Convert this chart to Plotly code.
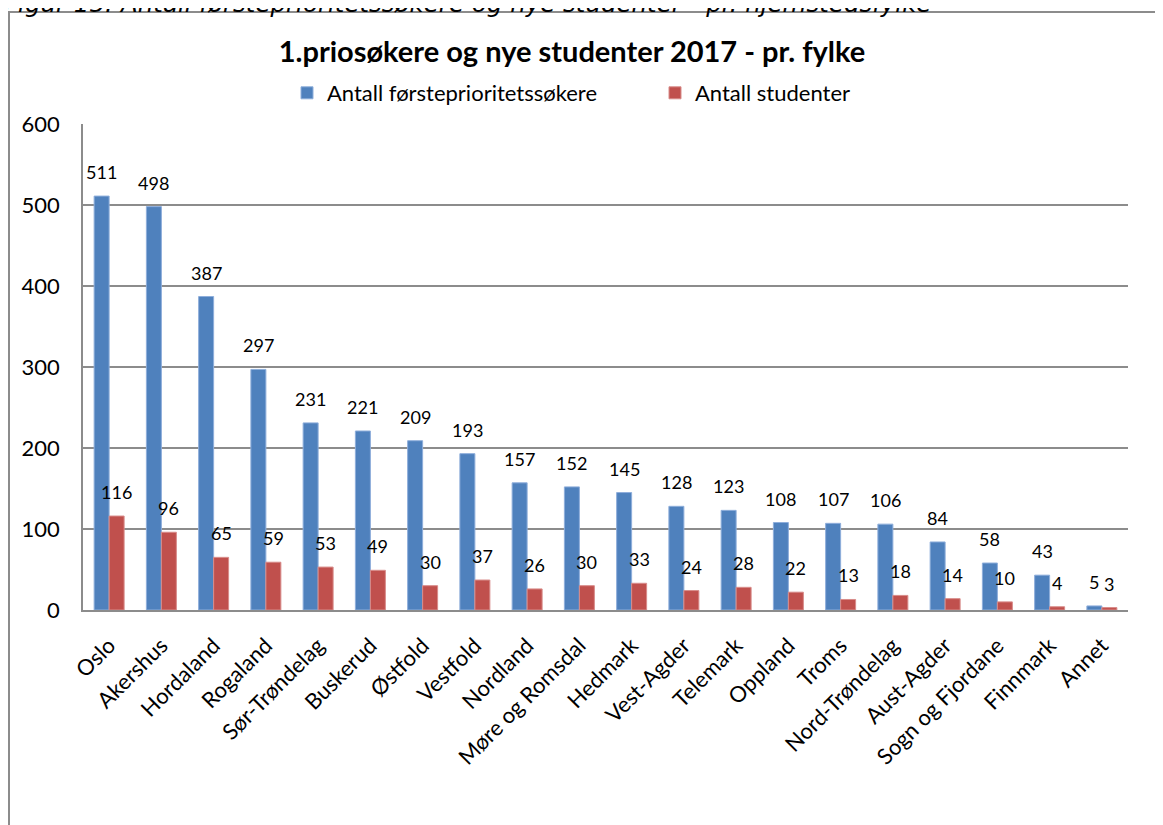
import plotly.graph_objects as go

categories = ["Oslo", "Akershus", "Hordaland", "Rogaland", "Sør-Trøndelag", "Buskerud",
              "Østfold", "Vestfold", "Nordland", "Møre og Romsdal", "Hedmark", "Vest-Agder",
              "Telemark", "Oppland", "Troms", "Nord-Trøndelag", "Aust-Agder",
              "Sogn og Fjordane", "Finnmark", "Annet"]
applicants = [511, 498, 387, 297, 231, 221, 209, 193, 157, 152, 145, 128, 123, 108, 107,
              106, 84, 58, 43, 5]
students = [116, 96, 65, 59, 53, 49, 30, 37, 26, 30, 33, 24, 28, 22, 13, 18, 14, 10, 4, 3]
y_ticks = [0, 100, 200, 300, 400, 500, 600]

series_names = ["Antall førsteprioritetssøkere", "Antall studenter"]
title_text = "1.priosøkere og nye studenter 2017 - pr. fylke"
caption_text = "Figur 15: Antall førsteprioritetssøkere og nye studenter - pr. hjemstedsfylke"

BLUE = "#4F81BD"
RED = "#C0504D"
GRID = "#8C8C8C"
FONT = "Lato"

# page offset (browser body margin)
OFF = 8
W, H = 1163, 825
ML, MT = 83 - OFF, 124 - OFF
PW, PH = 1045, 486
MR = W - ML - PW
MB = H - MT - PH


def px_x(p):  # window pixel -> paper x
    return (p - OFF - ML) / PW


def px_y(p):  # window pixel -> paper y
    return (MT + PH - (p - OFF)) / PH


fig = go.Figure()
fig.add_trace(go.Bar(x=categories, y=applicants, name=series_names[0],
                     marker=dict(color=BLUE, line=dict(color="#8EAEDB", width=1))))
fig.add_trace(go.Bar(x=categories, y=students, name=series_names[1],
                     marker=dict(color=RED, line=dict(color="#D88C8A", width=1))))

cat_w = PW / len(categories)
bargap = 0.426
bar_w = cat_w * (1 - bargap) / 2

annotations = []
for i, (a, s) in enumerate(zip(applicants, students)):
    annotations.append(dict(x=categories[i], y=a, xref="x", yref="y", text=str(a),
                            showarrow=False, xshift=-bar_w / 2, yshift=24,
                            yanchor="middle", font=dict(family=FONT, size=18, color="black")))
    annotations.append(dict(x=categories[i], y=s, xref="x", yref="y", text=str(s),
                            showarrow=False, xshift=bar_w / 2, yshift=24,
                            yanchor="middle", font=dict(family=FONT, size=18, color="black")))

annotations.append(dict(x=px_x(2), y=px_y(3), xref="paper", yref="paper", text=caption_text,
                        showarrow=False, xanchor="left", yanchor="middle",
                        font=dict(family="DejaVu Sans", size=24.5, color="black", style="italic")))

fig.update_layout(
    width=W, height=H,
    margin=dict(l=ML, r=MR, t=MT, b=MB),
    paper_bgcolor="white", plot_bgcolor="white",
    barmode="group", bargap=bargap, bargroupgap=0,
    font=dict(family=FONT, color="black"),
    title=dict(text="<b>" + title_text + "</b>", x=(572 - OFF) / W, y=1 - (52 - OFF) / H,
               xref="container", yref="container", xanchor="center", yanchor="middle",
               font=dict(family=FONT, size=29, color="black")),
    legend=dict(orientation="h", x=px_x(287), y=px_y(93), xanchor="left", yanchor="middle",
                font=dict(family=FONT, size=22, color="black"), entrywidth=323,
                bgcolor="rgba(0,0,0,0)", traceorder="normal"),
    showlegend=True,
    annotations=annotations,
    shapes=[dict(type="rect", xref="paper", yref="paper",
                 x0=px_x(9), x1=px_x(1190), y0=px_y(860), y1=px_y(12),
                 line=dict(color=GRID, width=2), layer="below")],
    xaxis=dict(type="category", tickangle=-45, showline=True, linecolor=GRID, linewidth=2,
               ticks="", ticklabelstandoff=12,
               tickfont=dict(family=FONT, size=22, color="black"), showgrid=False),
    yaxis=dict(range=[0, 600], tickvals=y_ticks, showgrid=True, gridcolor=GRID, gridwidth=1.5,
               showline=True, linecolor=GRID, linewidth=1.5, zeroline=False, ticks="",
               ticklabelstandoff=17,
               tickfont=dict(family=FONT, size=22, color="black")),
)

fig.write_html("out.html")
